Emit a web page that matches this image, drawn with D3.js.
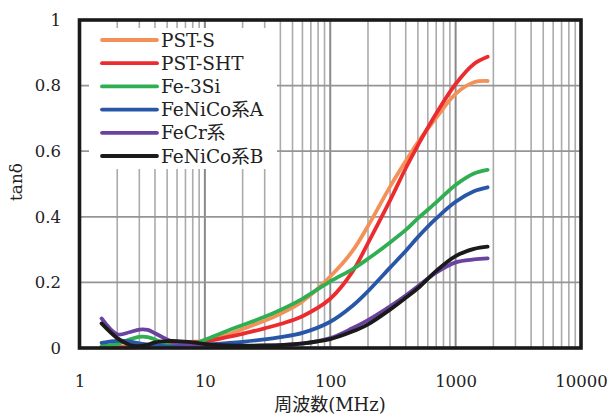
<!DOCTYPE html>
<html>
<head>
<meta charset="utf-8">
<script src="https://cdn.jsdelivr.net/npm/d3@7"></script>
<style>
  html, body { margin: 0; padding: 0; background: #fff; }
  svg { display: block; }
  text { font-family: "DejaVu Serif", "Noto Sans CJK JP", serif; fill: #222; }
</style>
</head>
<body>
<svg id="chart" width="611" height="417"></svg>
<script>
// ---- data ----
const freqs = [1.5, 2, 2.5, 3, 3.5, 4, 5, 6, 8, 10, 15, 20, 30, 40, 60, 100, 150, 200, 300, 400, 500, 700, 1000, 1400, 1800];
const seriesNames = ["PST-S", "PST-SHT", "Fe-3Si", "FeNiCo系A", "FeCr系", "FeNiCo系B"];
const pstS    = [0.005, 0.004, 0.005, 0.007, 0.009, 0.010, 0.013, 0.015, 0.019, 0.022, 0.040, 0.058, 0.083, 0.104, 0.142, 0.218, 0.295, 0.372, 0.492, 0.570, 0.627, 0.702, 0.775, 0.810, 0.814];
const pstSHT  = [0.003, 0.002, 0.002, 0.003, 0.005, 0.007, 0.011, 0.014, 0.017, 0.020, 0.033, 0.043, 0.060, 0.073, 0.097, 0.150, 0.232, 0.320, 0.450, 0.548, 0.618, 0.715, 0.805, 0.866, 0.888];
const fe3Si   = [0.006, 0.012, 0.026, 0.034, 0.033, 0.026, 0.010, 0.004, 0.012, 0.025, 0.052, 0.070, 0.095, 0.116, 0.150, 0.203, 0.240, 0.272, 0.322, 0.360, 0.395, 0.444, 0.497, 0.532, 0.543];
const feNiCoA = [0.016, 0.022, 0.020, 0.014, 0.010, 0.008, 0.005, 0.005, 0.007, 0.010, 0.015, 0.019, 0.026, 0.033, 0.046, 0.080, 0.128, 0.173, 0.245, 0.296, 0.338, 0.395, 0.446, 0.478, 0.490];
const feCr    = [0.090, 0.042, 0.048, 0.056, 0.055, 0.045, 0.026, 0.016, 0.006, 0.004, 0.004, 0.005, 0.007, 0.009, 0.013, 0.030, 0.060, 0.085, 0.127, 0.160, 0.188, 0.230, 0.261, 0.270, 0.273];
const feNiCoB = [0.075, 0.030, 0.010, 0.006, 0.010, 0.017, 0.021, 0.021, 0.017, 0.012, 0.008, 0.007, 0.008, 0.009, 0.014, 0.027, 0.050, 0.072, 0.117, 0.153, 0.182, 0.235, 0.280, 0.302, 0.309];
const seriesValues = [pstS, pstSHT, fe3Si, feNiCoA, feCr, feNiCoB];
const seriesColors = ["#F39158", "#EC2B2F", "#2FAE52", "#2857A8", "#6A42A0", "#1B1A1A"];
const xTickValues = [1, 10, 100, 1000, 10000];
const yTickValues = [0, 0.2, 0.4, 0.6, 0.8, 1];
const xTitle = "周波数(MHz)";
const yTitle = "tanδ";

// ---- layout ----
const svg = d3.select("#chart");
const L = 79.5, R = 581, T = 20, B = 348;
const x = d3.scaleLog().domain([1, 10000]).range([L, R]);
const y = d3.scaleLinear().domain([0, 1]).range([B, T]);

// grid lines
const grid = svg.append("g");
const isDecade = d => Math.abs(Math.log10(d) - Math.round(Math.log10(d))) < 1e-9;
const minor = x.ticks().filter(d => d > 1 && d < 10000);
grid.selectAll("line.v").data(minor).enter().append("line")
  .attr("x1", d => x(d)).attr("x2", d => x(d))
  .attr("y1", T).attr("y2", B)
  .attr("stroke", d => isDecade(d) ? "#8a8a8a" : "#ababab")
  .attr("stroke-width", d => isDecade(d) ? 2 : 1.6);
grid.selectAll("line.h").data(yTickValues.filter(d => d > 0 && d < 1)).enter().append("line")
  .attr("x1", L).attr("x2", R)
  .attr("y1", d => y(d)).attr("y2", d => y(d))
  .attr("stroke", "#959595").attr("stroke-width", 1.8);

// legend background
const lg = svg.append("g");
lg.append("rect").attr("x", 89).attr("y", 28).attr("width", 188).attr("height", 141).attr("fill", "#fff");

// curves
const line = d3.line().x(d => x(d[0])).y(d => y(d[1])).curve(d3.curveCatmullRom.alpha(0.5));
seriesValues.forEach((vals, i) => {
  svg.append("path")
    .datum(freqs.map((f, j) => [f, vals[j]]))
    .attr("d", line)
    .attr("fill", "none")
    .attr("stroke", seriesColors[i])
    .attr("stroke-width", 3.8)
    .attr("stroke-linecap", "round")
    .attr("stroke-linejoin", "round");
});

// legend entries
seriesNames.forEach((name, i) => {
  const yy = 40 + i * 23.2;
  lg.append("line").attr("x1", 102).attr("x2", 157).attr("y1", yy).attr("y2", yy)
    .attr("stroke", seriesColors[i]).attr("stroke-width", 3.8).attr("stroke-linecap", "round");
  lg.append("text").attr("x", 161).attr("y", yy).attr("dy", "0.36em")
    .attr("font-size", 18.5).text(name);
});
lg.raise();

// frame
svg.append("rect").attr("x", L).attr("y", T).attr("width", R - L).attr("height", B - T)
  .attr("fill", "none").attr("stroke", "#1a1a1a").attr("stroke-width", 3.6);

// axes (labels only)
const xAxis = svg.append("g").attr("transform", `translate(0,${B})`)
  .call(d3.axisBottom(x).tickValues(xTickValues).tickFormat(d3.format("d")).tickSize(0).tickPadding(27));
xAxis.select(".domain").remove();
xAxis.selectAll("text").attr("font-size", 16.5).attr("font-family", "DejaVu Serif").attr("fill", "#222");

const yAxis = svg.append("g").attr("transform", `translate(61,0)`)
  .call(d3.axisLeft(y).tickValues(yTickValues).tickFormat(d => d === 0 ? "0" : d === 1 ? "1" : d3.format(".1f")(d)).tickSize(0).tickPadding(0));
yAxis.select(".domain").remove();
yAxis.selectAll("text").attr("font-size", 16.5).attr("font-family", "DejaVu Serif").attr("fill", "#222");

// titles
svg.append("text").attr("x", 330).attr("y", 405).attr("dy", "0.35em").attr("text-anchor", "middle")
  .attr("font-size", 18).text(xTitle);
svg.append("text").attr("transform", "translate(16,182) rotate(-90)").attr("dy", "0.35em")
  .attr("text-anchor", "middle").attr("font-size", 17).text(yTitle);
</script>
</body>
</html>
